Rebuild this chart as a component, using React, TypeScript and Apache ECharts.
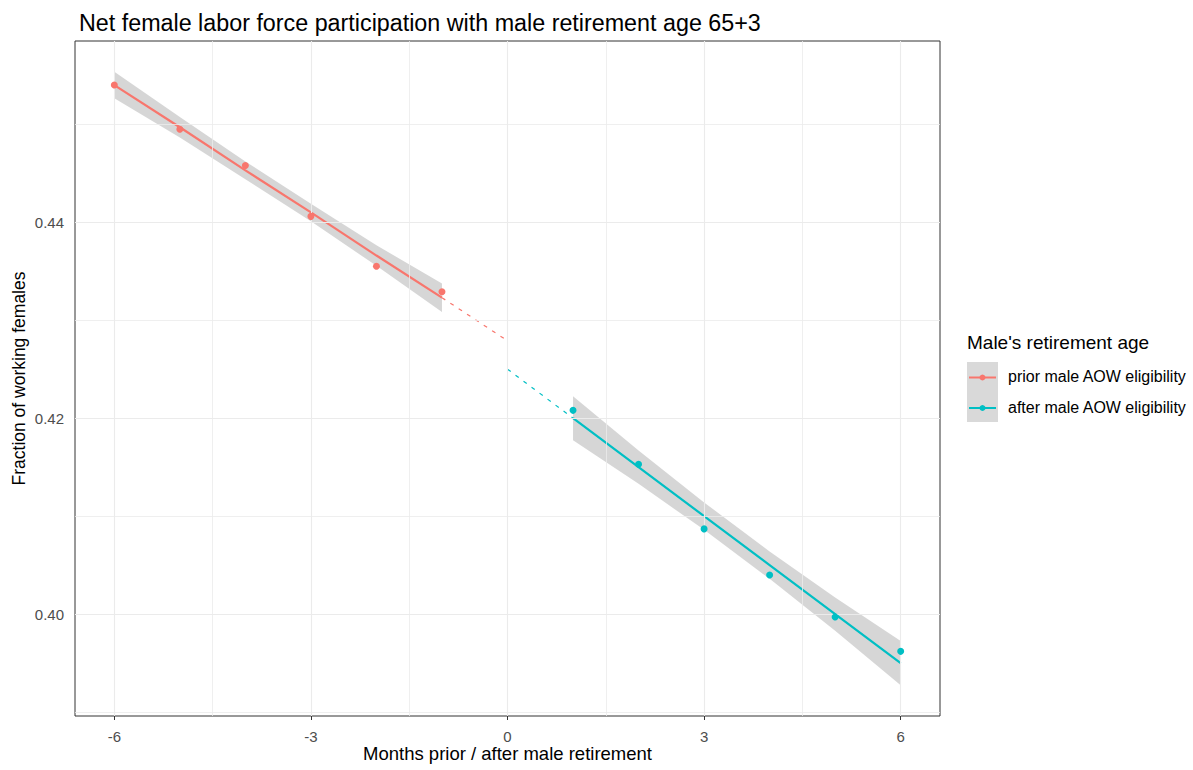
import React, { useEffect, useRef } from "react";
import * as echarts from "echarts";

const RED = "#F8766D";
const CYAN = "#00BFC4";

// Observed points
const priorX = [-6, -5, -4, -3, -2, -1];
const priorY = [0.454, 0.4495, 0.4458, 0.4406, 0.4355, 0.4329];
const afterX = [1, 2, 3, 4, 5, 6];
const afterY = [0.4208, 0.4153, 0.4087, 0.404, 0.3997, 0.3962];

// Fitted lines and confidence bands
const priorFit = [0.454, 0.4497, 0.4453, 0.441, 0.4366, 0.4323];
const priorLow = [0.45265, 0.44865, 0.4444, 0.4401, 0.43555, 0.43085];
const priorHigh = [0.45535, 0.45075, 0.4462, 0.4419, 0.43765, 0.43375];
const afterFit = [0.42, 0.415, 0.41, 0.405, 0.4, 0.395];
const afterLow = [0.41775, 0.4133, 0.4086, 0.4036, 0.3983, 0.39275];
const afterHigh = [0.42225, 0.4167, 0.4114, 0.4064, 0.4017, 0.39725];

// Extrapolated (dashed) segments to the cutoff
const priorDashX = [-1, 0];
const priorDashY = [0.4323, 0.4279];
const afterDashX = [0, 1];
const afterDashY = [0.425, 0.42];

// Ticks and grid
const xTicks = [-6, -3, 0, 3, 6];
const xMinor = [-4.5, -1.5, 1.5, 4.5];
const yTicks = [0.4, 0.42, 0.44];
const yMinor = [0.39, 0.41, 0.43, 0.45];

const labels = ["prior male AOW eligibility", "after male AOW eligibility"];

const FONT = "Liberation Sans, Arial, sans-serif";

function bandSeries(xs: number[], lo: number[], hi: number[]) {
  return {
    type: "custom",
    silent: true,
    z: 3,
    data: [[xs[0], lo[0]]],
    renderItem: (_p: any, api: any) => {
      const top = xs.map((x, i) => api.coord([x, hi[i]]));
      const bot = xs.map((x, i) => api.coord([x, lo[i]])).reverse();
      return {
        type: "polygon",
        shape: { points: top.concat(bot) },
        style: { fill: "rgba(153,153,153,0.4)" },
      };
    },
  };
}

function zip(xs: number[], ys: number[]) {
  return xs.map((x, i) => [x, ys[i]]);
}

export default function App() {
  const ref = useRef<HTMLDivElement>(null);
  useEffect(() => {
    if (!ref.current) return;
    const chart = echarts.init(ref.current, null, { renderer: "svg" });
    const gridLines = [
      ...xTicks.map((v) => ({ xAxis: v, lineStyle: { color: "#ebebeb", width: 1.1 } })),
      ...xMinor.map((v) => ({ xAxis: v, lineStyle: { color: "#ebebeb", width: 0.8 } })),
      ...yTicks.map((v) => ({ yAxis: v, lineStyle: { color: "#ebebeb", width: 1.1 } })),
      ...yMinor.map((v) => ({ yAxis: v, lineStyle: { color: "#ebebeb", width: 0.8 } })),
    ];
    chart.setOption({
      animation: false,
      backgroundColor: "#ffffff",
      title: {
        text: "Net female labor force participation with male retirement age 65+3",
        left: 74,
        top: 6,
        textStyle: { fontFamily: FONT, fontSize: 23.3, fontWeight: "normal", color: "#000" },
      },
      grid: {
        left: 75,
        right: 253,
        top: 41,
        bottom: 54,
        containLabel: false,
        outerBoundsMode: "none",
        show: true,
        borderColor: "#333333",
        borderWidth: 1,
        backgroundColor: "transparent",
      },
      xAxis: {
        type: "value",
        min: -6.6,
        max: 6.6,
        name: "Months prior / after male retirement",
        nameLocation: "middle",
        nameGap: 28,
        nameMoveOverlap: false,
        nameTextStyle: { fontFamily: FONT, fontSize: 18.5, color: "#000" },
        axisLine: { show: false },
        splitLine: { show: false },
        axisTick: {
          show: true,
          customValues: xTicks,
          length: 4,
          lineStyle: { color: "#333333" },
        },
        axisLabel: {
          customValues: xTicks,
          fontFamily: FONT,
          fontSize: 15,
          color: "#4d4d4d",
          margin: 13,
        },
      },
      yAxis: {
        type: "value",
        min: 0.3896,
        max: 0.4585,
        name: "Fraction of working females",
        nameLocation: "middle",
        nameGap: 47,
        nameMoveOverlap: false,
        nameTextStyle: { fontFamily: FONT, fontSize: 17.5, color: "#000" },
        axisLine: { show: false },
        splitLine: { show: false },
        axisTick: {
          show: true,
          customValues: yTicks,
          length: 4,
          lineStyle: { color: "#333333" },
        },
        axisLabel: {
          customValues: yTicks,
          formatter: (v: number) => v.toFixed(2),
          fontFamily: FONT,
          fontSize: 15,
          color: "#4d4d4d",
          margin: 11,
        },
      },
      series: [
        {
          type: "line",
          name: "gridlines",
          data: [],
          silent: true,
          z: 1,
          markLine: {
            silent: true,
            symbol: ["none", "none"],
            label: { show: false },
            lineStyle: { type: "solid" },
            emphasis: { disabled: true },
            data: gridLines,
          },
        },
        bandSeries(priorX, priorLow, priorHigh),
        bandSeries(afterX, afterLow, afterHigh),
        {
          type: "line",
          name: labels[0] + " fit",
          data: zip(priorX, priorFit),
          showSymbol: false,
          z: 4,
          lineStyle: { color: RED, width: 2.2 },
          itemStyle: { color: RED },
        },
        {
          type: "line",
          name: labels[1] + " fit",
          data: zip(afterX, afterFit),
          showSymbol: false,
          z: 4,
          lineStyle: { color: CYAN, width: 2.2 },
          itemStyle: { color: CYAN },
        },
        {
          type: "line",
          name: labels[0] + " extrapolation",
          data: zip(priorDashX, priorDashY),
          showSymbol: false,
          z: 4,
          lineStyle: { color: RED, width: 1.2, type: [4, 6] },
        },
        {
          type: "line",
          name: labels[1] + " extrapolation",
          data: zip(afterDashX, afterDashY),
          showSymbol: false,
          z: 4,
          lineStyle: { color: CYAN, width: 1.2, type: [4, 6] },
        },
        {
          type: "scatter",
          name: labels[0],
          data: zip(priorX, priorY),
          symbolSize: 7,
          z: 5,
          itemStyle: { color: RED, opacity: 1 },
        },
        {
          type: "scatter",
          name: labels[1],
          data: zip(afterX, afterY),
          symbolSize: 7,
          z: 5,
          itemStyle: { color: CYAN, opacity: 1 },
        },
      ],
      graphic: [
        {
          type: "text",
          left: 967,
          top: 333,
          style: { text: "Male's retirement age", font: `19px ${FONT}`, fill: "#000" },
        },
        {
          type: "rect",
          shape: { x: 967, y: 362, width: 31, height: 60 },
          style: { fill: "#d9d9d9" },
        },
        { type: "line", shape: { x1: 969, y1: 377.5, x2: 996, y2: 377.5 }, style: { stroke: RED, lineWidth: 2 } },
        { type: "circle", shape: { cx: 982.5, cy: 377.5, r: 3 }, style: { fill: RED } },
        { type: "line", shape: { x1: 969, y1: 408, x2: 996, y2: 408 }, style: { stroke: CYAN, lineWidth: 2 } },
        { type: "circle", shape: { cx: 982.5, cy: 408, r: 3 }, style: { fill: CYAN } },
        {
          type: "text",
          left: 1008,
          top: 368,
          style: { text: labels[0], font: `16px ${FONT}`, fill: "#000" },
        },
        {
          type: "text",
          left: 1008,
          top: 399,
          style: { text: labels[1], font: `16px ${FONT}`, fill: "#000" },
        },
      ],
    });
    return () => chart.dispose();
  }, []);
  return (
    <div
      ref={ref}
      style={{ position: "fixed", left: 0, top: 0, width: 1193, height: 770 }}
    />
  );
}
